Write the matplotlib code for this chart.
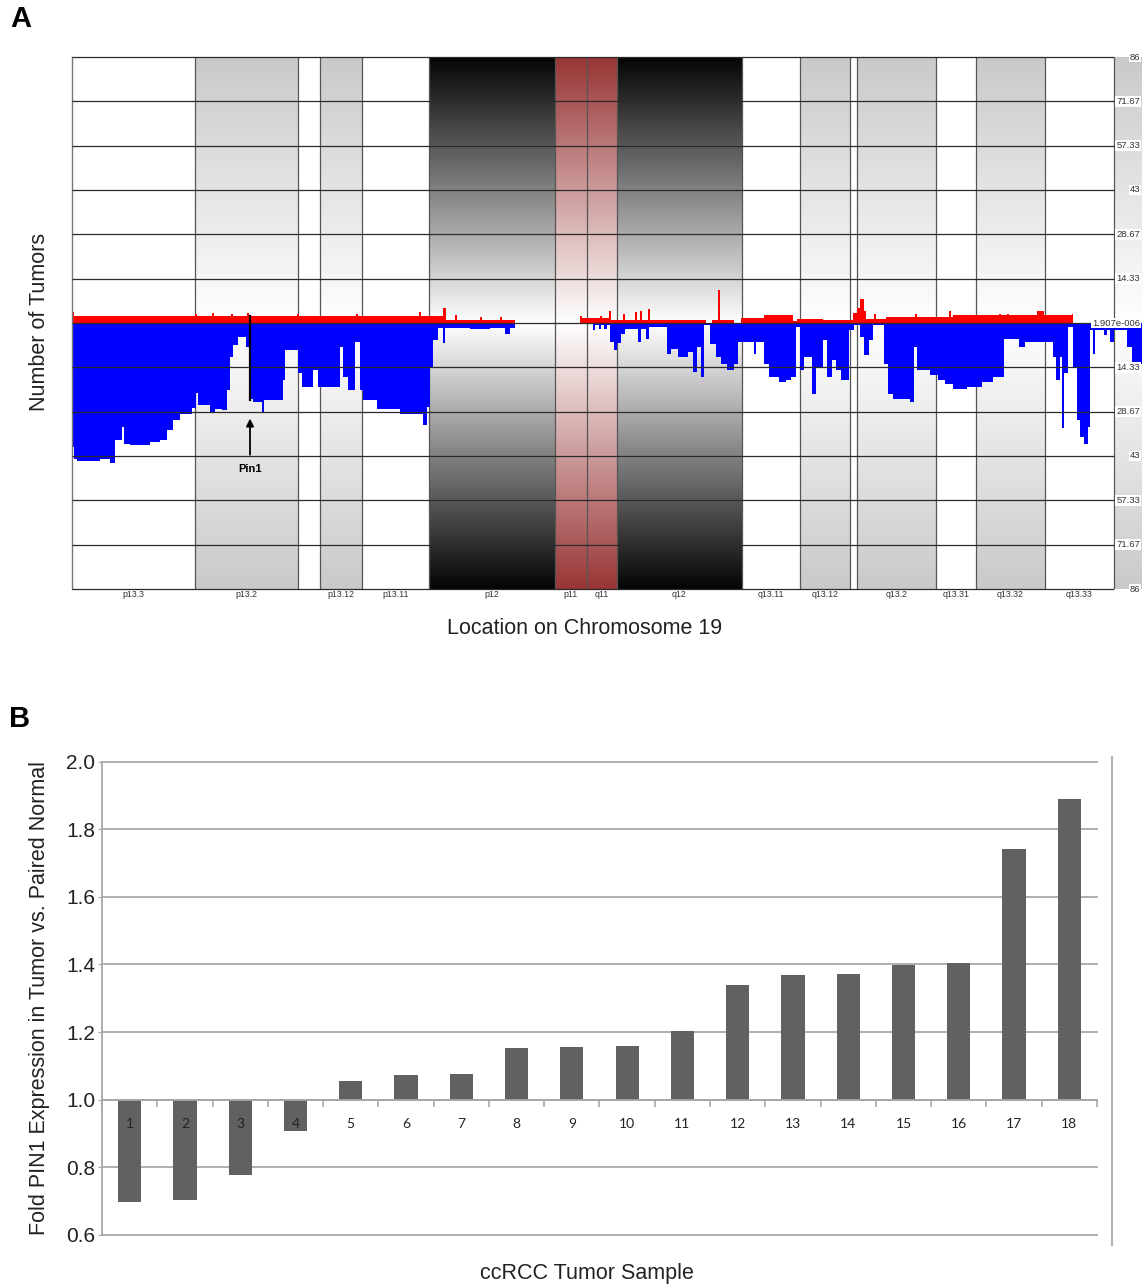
import numpy as np
import matplotlib.pyplot as plt
from matplotlib.lines import Line2D
from matplotlib.transforms import blended_transform_factory

plt.rcParams['font.family'] = ['Liberation Sans', 'DejaVu Sans']

W, H = 1142, 1286

# ---------------- Panel A : chromosome 19 ----------------
# Cytobandes (position en Mb)
band_names = ['p13.3', 'p13.2', 'p13.13', 'p13.12', 'p13.11', 'p12', 'p11', 'q11', 'q12',
              'q13.11', 'q13.12', 'q13.13', 'q13.2', 'q13.31', 'q13.32', 'q13.33', 'q13.41']
band_start = [0.0, 6.15, 11.3, 12.4, 14.5, 17.85, 24.15, 25.75, 27.25,
              33.5, 36.4, 38.9, 39.25, 43.2, 45.2, 48.65, 52.1]
band_end = band_start[1:] + [53.5]
band_stain = ['gneg', 'gpos', 'gneg', 'gpos', 'gneg', 'gvar', 'acen', 'acen', 'gvar',
              'gneg', 'gpos', 'gneg', 'gpos', 'gneg', 'gpos', 'gneg', 'gpos']
band_labelled = [True, True, False, True, True, True, True, True, True,
                 True, True, False, True, True, True, True, False]

# Pertes (nombre de tumeurs), fonction en escalier
loss_pos = [0.00, 0.10, 0.25, 1.40, 1.90, 2.15, 2.48, 2.60, 2.90, 3.90,
            4.40, 4.75, 5.05, 5.40, 6.00, 6.20, 6.30, 6.90, 7.15, 7.50,
            7.75, 7.90, 8.05, 8.30, 8.70, 8.85, 9.05, 9.50, 9.60, 10.55,
            10.65, 11.30, 11.50, 12.05, 12.30, 13.40, 13.55, 13.80, 14.15, 14.40,
            14.55, 15.25, 16.40, 17.55, 17.75, 17.90, 18.05, 18.30, 18.55, 18.65,
            19.90, 20.90, 21.65, 21.90, 22.15,
            25.40, 26.05, 26.15, 26.35, 26.45, 26.60, 26.75, 26.90, 27.10, 27.25,
            27.45, 27.65, 28.30, 28.45, 28.70, 28.85, 29.75, 29.95, 30.30, 30.80,
            31.05, 31.25, 31.45, 31.60, 31.90, 32.20, 32.45, 32.75, 33.10, 33.30,
            34.10, 34.20, 34.60, 34.85, 35.35, 35.70, 35.95, 36.20, 36.40, 36.60,
            37.00, 37.20, 37.55, 37.75, 38.00, 38.20, 38.45, 38.85, 39.10, 39.40,
            39.60, 39.85, 40.05, 40.60, 40.80, 41.05, 41.90, 42.10, 42.25, 42.90,
            43.30, 43.65, 44.05, 44.75, 45.50, 46.05, 46.60, 47.35, 47.65, 49.05,
            49.20, 49.40, 49.50, 49.60, 49.80, 50.05, 50.25, 50.40, 50.60, 50.80,
            50.90, 51.05, 51.15, 51.60, 51.75, 51.90, 52.10, 52.75, 53.00, 53.5]
loss_n = [40, 44, 44.5, 44, 45.4, 37.9, 33.6, 39, 39.5, 38.5,
          37.9, 34.7, 31.5, 29.3, 27.6, 22.7, 26.6, 28.8, 27.7, 28.2,
          21.8, 11, 7.2, 4.5, 7.8, 24.5, 25.5, 28.8, 25, 18.5,
          8.8, 16.3, 20.7, 15.3, 20.7, 7.8, 17.5, 21.8, 6.1, 21.8,
          25, 27.7, 29.3, 33, 27, 14.2, 5.6, 1.7, 6.6, 1.5,
          2, 1.5, 3.5, 1.5, 0,
          0, 2.4, 0.5, 1.8, 0.5, 1.8, 0.5, 6.1, 8.8, 6.6,
          3.4, 2.1, 6.1, 2.1, 5.3, 1.3, 9.9, 8.3, 11, 9.4,
          15.8, 7.8, 17.5, 0.5, 6.7, 11, 13.1, 15.3, 13.1, 6.1,
          9.9, 6.1, 13.1, 17.5, 19.1, 18.5, 17.5, 1.3, 15.3, 11,
          22.8, 14.2, 5.6, 17.5, 12, 15.3, 18.5, 2.4, 0.8, 4.5,
          10.5, 5.6, 0.8, 13.1, 22.8, 24.5, 25.5, 7.8, 15.3, 16.9,
          18.5, 19.6, 21.4, 20.7, 19.1, 17.5, 5.3, 7.8, 6.1, 11,
          18.5, 11, 34.1, 16.3, 1.3, 14.2, 31.5, 36.8, 39, 33.6,
          2.4, 9.9, 2.4, 3.9, 2.4, 6.1, 2.4, 7.8, 13.1]

# Gains (nombre de tumeurs)
gain_pos = [0.00, 0.10, 6.15, 6.25, 7.00, 7.10, 7.95, 8.05, 8.75, 8.85,
            11.25, 11.35, 14.20, 14.30, 17.35, 17.45, 18.55, 18.70, 19.15, 19.25,
            20.40, 20.50, 21.40, 21.50, 22.15, 25.40, 25.50, 26.40, 26.50, 26.85,
            26.95, 27.55, 27.65, 28.15, 28.25, 28.40, 28.50, 28.80, 28.90, 31.70,
            32.00, 32.32, 32.42, 33.10, 33.45, 34.60, 36.05, 36.25, 37.55, 39.05,
            39.25, 39.40, 39.60, 39.70, 40.10, 40.20, 40.70, 42.15, 42.25, 43.85,
            43.95, 44.05, 46.35, 46.45, 46.75, 46.85, 48.25, 48.60, 50.00, 50.05, 53.5]
gain_n = [3.6, 2.2, 3.0, 2.2, 3.3, 2.2, 3.0, 2.2, 3.3, 2.2,
          3.0, 2.2, 3.0, 2.2, 3.6, 2.2, 4.7, 1.0, 2.5, 1.0,
          2.0, 1.0, 2.0, 1.0, 0, 2.2, 1.7, 2.2, 1.7, 3.9,
          1.1, 3.0, 1.1, 3.5, 1.1, 3.8, 1.1, 4.5, 1.1, 0,
          1.1, 10.8, 1.1, 0, 1.7, 2.5, 0.5, 1.4, 1.1, 3.2,
          5.0, 7.9, 4.0, 1.4, 3.0, 1.4, 2.0, 2.8, 2.0, 3.9,
          2.0, 2.5, 3.0, 2.5, 3.0, 2.5, 3.9, 2.5, 3.0, 0]

tumor_ticks = [86, 71.67, 57.33, 43, 28.67, 14.33, 0, -14.33, -28.67, -43, -57.33, -71.67, -86]
pin1_mb = 8.9

# ---------------- Panel B : PIN1 ----------------
samples = [str(i) for i in range(1, 19)]
fold = [0.697, 0.704, 0.778, 0.907, 1.055, 1.072, 1.077, 1.152, 1.156,
        1.159, 1.202, 1.338, 1.368, 1.373, 1.397, 1.403, 1.741, 1.889]

fig = plt.figure(figsize=(W / 100, H / 100), dpi=100)

# ---- A
axA = fig.add_axes([72 / W, 1 - 589 / H, (1142 - 72) / W, 532 / H])
stain_col = {'gpos': (0.79, 0.79, 0.79), 'gvar': (0.02, 0.02, 0.02), 'acen': (0.60, 0.21, 0.21)}
t = np.abs(np.linspace(-1, 1, 257))[:, None, None]
for s, e, st in zip(band_start, band_end, band_stain):
    if st in stain_col:
        dark = np.array(stain_col[st])[None, None, :]
        rgb = 1 - t * (1 - dark)
        axA.imshow(rgb, extent=[s, e, -86, 86], aspect='auto', origin='lower',
                   interpolation='bilinear', zorder=0)
axA.vlines(band_start[1:], -86, 86, color='#555555', lw=0.9, zorder=1)

axA.fill_between(gain_pos, 0, gain_n + [gain_n[-1]], step='post', color='#ff0000', lw=0, zorder=2)
axA.fill_between(loss_pos, 0, -np.array(loss_n + [loss_n[-1]]), step='post', color='#0000ff', lw=0, zorder=2)

axA.hlines(tumor_ticks, 0, 52.1, color='#2a2a2a', lw=0.9, zorder=3, clip_on=False)

# marqueur Pin1
axA.plot([pin1_mb, pin1_mb], [2.2, -25], color='black', lw=1.6, zorder=4)
axA.annotate('', xy=(pin1_mb, -30), xytext=(pin1_mb, -43.5),
             arrowprops=dict(arrowstyle='-|>', color='black', lw=1.3, mutation_scale=11), zorder=4)
axA.text(pin1_mb, -47.3, 'Pin1', fontsize=8, fontweight='bold', ha='center', va='center', zorder=4)

axA.set_xlim(0, 53.5)
axA.set_ylim(-86, 86)
axA.set_xticks([])
axA.set_yticks([])
for sp in ['top', 'right', 'bottom']:
    axA.spines[sp].set_visible(False)
axA.spines['left'].set_color('#777777')
axA.spines['left'].set_linewidth(1.0)

trA = blended_transform_factory(axA.transAxes, axA.transData)
for v in tumor_ticks:
    lab = '1.907e-006' if v == 0 else ('%g' % abs(v))
    axA.text(0.9981, v, lab, transform=trA, ha='right', va='center', fontsize=6.8,
             color='#333333', zorder=5, bbox=dict(fc='white', ec='none', pad=0.6))

trB = blended_transform_factory(axA.transData, axA.transAxes)
for name, s, e, show in zip(band_names, band_start, band_end, band_labelled):
    if show:
        axA.text((s + e) / 2, -0.011, name, transform=trB, ha='center', va='center',
                 fontsize=6.3, color='#333333')

fig.text(40 / W, 1 - 322 / H, 'Number of Tumors', rotation=90, ha='center', va='center',
         fontsize=15.5, color='#222222')
fig.text(585 / W, 1 - 629 / H, 'Location on Chromosome 19', ha='center', va='center',
         fontsize=15.5, color='#222222')
fig.text(21 / W, 1 - 19 / H, 'A', fontsize=21, fontweight='bold', ha='center', va='center')

# ---- B
axB = fig.add_axes([102 / W, 1 - 1235 / H, 995 / W, (1235 - 761.5) / H])
x = np.arange(1, len(fold) + 1)
axB.bar(x, np.array(fold) - 1.0, bottom=1.0, width=0.42, color='#616161', zorder=3)
axB.set_xlim(0.5, len(fold) + 0.5)
axB.set_ylim(0.6, 2.0)
yt = np.round(np.arange(0.6, 2.01, 0.2), 1)
axB.set_yticks(yt)
axB.set_yticklabels(['%.1f' % v for v in yt])
axB.yaxis.grid(True, color='#a8a8a8', lw=1.3)
axB.set_axisbelow(True)
for gl in axB.get_ygridlines():
    gl.set_clip_on(False)
for sp in ['top', 'right']:
    axB.spines[sp].set_visible(False)
axB.spines['left'].set_color('#a8a8a8')
axB.spines['left'].set_linewidth(1.3)
axB.spines['bottom'].set_position(('data', 1.0))
axB.spines['bottom'].set_color('#a8a8a8')
axB.spines['bottom'].set_linewidth(1.3)
axB.spines['bottom'].set_zorder(4)

# numéros d'échantillon dessinés par-dessus les barres
axB.set_xticks(np.arange(0.5, len(fold) + 1, 1.0))
axB.set_xticklabels([])
axB.tick_params(axis='x', length=5, color='#a8a8a8', width=1.2, direction='out')
for xi, lab in zip(x, samples):
    axB.text(xi, 0.928, lab, ha='center', va='center', fontsize=10,
             family=['Lato', 'DejaVu Sans'], color='#222222', zorder=5)
axB.tick_params(axis='y', length=3, color='#a8a8a8', labelsize=15, pad=2, labelcolor='#222222')

fig.add_artist(Line2D([1112 / W, 1112 / W], [1 - 757 / H, 1 - 1245 / H], color='#b5b5b5', lw=1.5))

fig.text(40 / W, 1 - 998 / H, 'Fold PIN1 Expression in Tumor vs. Paired Normal', rotation=90,
         ha='center', va='center', fontsize=15.5, color='#222222')
fig.text(587 / W, 1 - 1273 / H, 'ccRCC Tumor Sample', ha='center', va='center',
         fontsize=15.5, color='#222222')
fig.text(20 / W, 1 - 719 / H, 'B', fontsize=21, fontweight='bold', ha='center', va='center')

fig.savefig('out.png', dpi=100)
